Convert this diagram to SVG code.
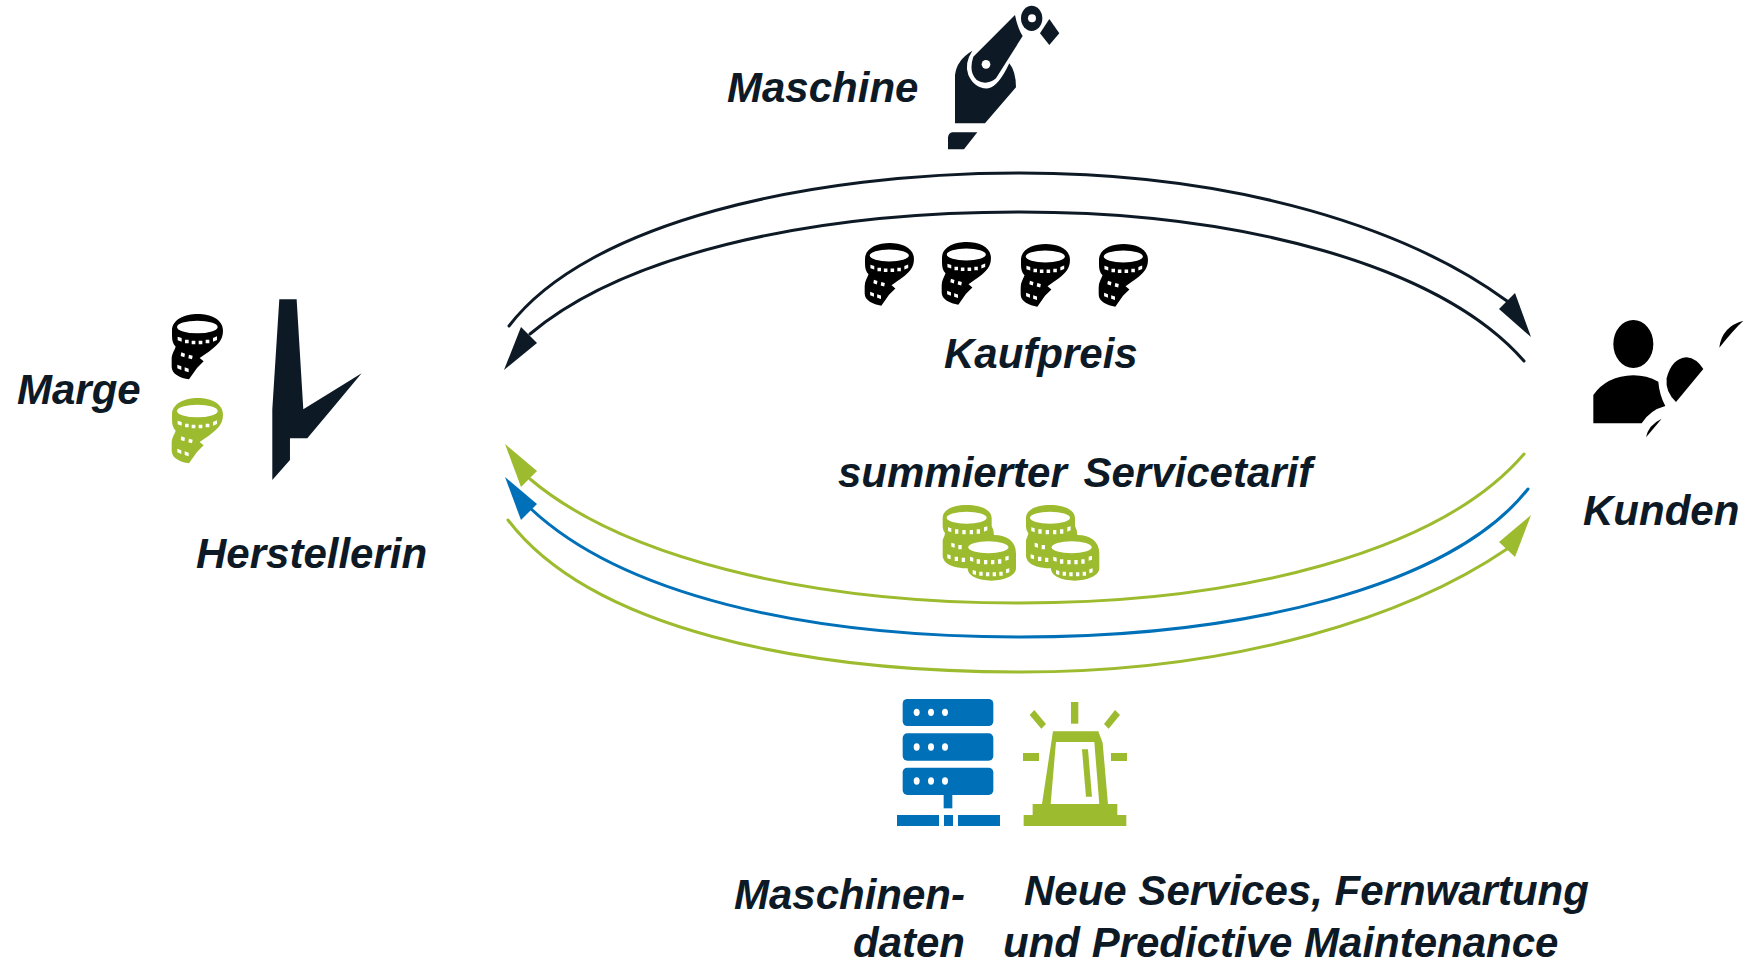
<svg xmlns="http://www.w3.org/2000/svg" width="1746" height="964" viewBox="0 0 1746 964">
<style>
text{font-family:"Liberation Sans",Arial,sans-serif;font-weight:bold;font-style:italic;font-size:42px;fill:#0d1a26}
.arc{fill:none;stroke-width:3;stroke-linecap:round}
.k{stroke:#0d1a26}.g{stroke:#9dbb2e}.b{stroke:#0070b8}
.fk{fill:#0d1a26}.fg{fill:#9dbb2e}.fb{fill:#0070b8}
.w{fill:#fff}
</style>
<defs>
<g id="coin" transform="scale(.3333) translate(-515 -100)">
<path d="M515 150C515 115 555 100 592 100C630 100 668 115 668 150C668 178 652 192 632 208C622 216 612 222 598 232L610 242L590 262L566 296C540 292 514 280 514 258V235C514 220 522 210 526 198C518 190 515 180 515 165Z"/>
<ellipse class="w" cx="591" cy="139" rx="61" ry="19"/>
<path class="w" d="M532 168l12 4v11l-12-4zM554 177h11v11h-11zM574 180h11v11h-11zM595 180h11v11h-11zM616 177h11v11h-11zM638 172l12-5v11l-12 5zM543 215l11 4-2 11-11-4zM566 222l11 3-2 11-11-3zM531 252l12 5v11l-12-5zM553 260l12 4v11l-12-4z"/>
</g>
</defs>

<g id="connectors">
<path class="arc k" d="M509 326C588 222 810 173 1020 173C1240 173 1410 230 1507 301"/>
<path class="arc k" d="M1524 361C1440 265 1240 212 1020 212C800 212 620 258 530 334"/>
<path class="arc g" d="M1524 454C1440 552 1240 603 1020 603C800 603 620 555 530 479"/>
<path class="arc b" d="M1528 489C1450 588 1240 637 1020 637C800 637 620 593 530 508"/>
<path class="arc g" d="M508 520C590 628 800 672 1020 672C1240 672 1410 615 1507 549"/>
<polygon class="fk" points="504,370 521,327 537,343"/>
<polygon class="fk" points="1531,337 1515,293 1499,309"/>
<polygon class="fg" points="505,444 537,471 521,487"/>
<polygon class="fb" points="505,477 537,504 521,520"/>
<polygon class="fg" points="1531,515 1499,542 1515,557"/>
</g>

<g id="maschine" class="fk" transform="translate(920 0) scale(.3333)">
<path d="M105 370V225Q110 180 157 152Q132 190 145 225Q165 268 205 265Q235 260 268 190Q288 215 288 262L195 370Z"/>
<path d="M285 45Q293 85 308 108L228 235Q200 258 170 240Q145 215 160 170Z"/>
<circle class="w" cx="198" cy="193" r="13"/>
<ellipse cx="335" cy="55" rx="32" ry="38"/>
<circle class="w" cx="336" cy="55" r="12"/>
<polygon points="388,57 418,100 388,135 360,100"/>
<path d="M97 397H172L132 448H84V412Q86 399 97 397Z"/>
</g>

<g id="herstellerin" class="fk" transform="translate(0 280) scale(.3333)">
<polygon points="838,58 890,58 910,388 1085,280 995,388 922,475 870,475 870,540 817,600 817,388"/>
</g>

<g id="marge-coins">
<use href="#coin" x="172" y="314" fill="#000"/>
<use href="#coin" x="172" y="398" fill="#9dbb2e"/>
</g>

<g id="kaufpreis-coins" fill="#000">
<use href="#coin" transform="translate(865 243) scale(.96)"/>
<use href="#coin" transform="translate(942 242) scale(.96)"/>
<use href="#coin" transform="translate(1021 244) scale(.96)"/>
<use href="#coin" transform="translate(1099 244) scale(.96)"/>
</g>

<g id="kunden" fill="#000" transform="translate(1560 300) scale(.3333)">
<ellipse cx="220" cy="132" rx="60" ry="72"/>
<path d="M100 370V285Q140 228 220 226Q260 226 295 245Q298 285 316 318Q270 330 245 370Z"/>
<path d="M348 306Q315 275 320 235Q335 175 380 172Q410 175 430 207Z"/>
<path d="M478 143Q485 80 550 62Q520 90 478 143Z"/>
<path d="M258 412Q265 375 305 356Q285 380 258 412Z"/>
</g>

<g id="service-coins" class="fg" transform="translate(920 490) scale(.3333)">
<g id="st1">
<path d="M68 85C68 58 100 45 140 45S215 58 215 85V108Q222 120 222 135C262 135 288 155 288 190V235C288 258 250 272 215 272C175 272 143 258 143 235C100 235 68 222 68 195V150Q75 135 75 130Q68 120 68 110Z"/>
<ellipse class="w" cx="140" cy="83" rx="60" ry="18"/>
<ellipse class="fg" cx="205" cy="172" rx="75" ry="32"/>
<ellipse class="w" cx="205" cy="172" rx="60" ry="18"/>
<path class="w" d="M84 112l10 3v12l-10-4zM105 118h10v13h-10zM127 120h10v13h-10zM149 120h10v13h-10zM170 118h10v13h-10zM192 112l10-3v12l-10 4zM94 158l10 3v12l-10-3zM115 165h10v13h-10zM82 193l10 3v12l-10-3zM104 200h10v13h-10zM125 203h10v13h-10zM150 200l10 3v12l-10-3zM170 208h10v13h-10zM192 210h10v13h-10zM213 210h10v13h-10zM234 208h10v13h-10zM256 200l10-3v12l-10 3zM158 240l10 3v12l-10-3zM178 245h10v12h-10zM198 247h10v12h-10zM218 247h10v12h-10zM238 245h10v12h-10zM258 238l10-3v12l-10 3z"/>
</g>
<use href="#st1" x="250"/>
</g>

<g id="maschinendaten" transform="translate(880 690) scale(.3333)">
<g class="fb">
<rect x="68" y="27" width="272" height="81" rx="14"/>
<rect x="68" y="130" width="272" height="82" rx="14"/>
<rect x="68" y="233" width="272" height="82" rx="14"/>
<rect x="191" y="315" width="26" height="40"/>
<rect x="51" y="375" width="126" height="33"/>
<rect x="192" y="375" width="27" height="33"/>
<rect x="234" y="375" width="126" height="33"/>
</g>
<g class="w">
<ellipse cx="110" cy="67" rx="9" ry="11"/><ellipse cx="153" cy="67" rx="9" ry="11"/><ellipse cx="195" cy="67" rx="9" ry="11"/>
<ellipse cx="110" cy="171" rx="9" ry="11"/><ellipse cx="153" cy="171" rx="9" ry="11"/><ellipse cx="195" cy="171" rx="9" ry="11"/>
<ellipse cx="110" cy="273" rx="9" ry="11"/><ellipse cx="153" cy="273" rx="9" ry="11"/><ellipse cx="195" cy="273" rx="9" ry="11"/>
</g>
</g>

<g id="services" class="fg" transform="translate(880 690) scale(.3333)">
<rect x="573" y="36" width="22" height="65"/>
<polygon points="449,75 463,60 498,102 484,116"/>
<polygon points="705,60 720,75 686,116 672,102"/>
<rect x="429" y="189" width="48" height="24"/>
<rect x="693" y="189" width="48" height="24"/>
<path fill-rule="evenodd" d="M519 124H655L668 158L684 342H712V375H739V408H431V375H458V342H486ZM528 156L512 342H658L643 156Z"/>
<polygon points="606,178 624,178 636,320 618,320"/>
</g>

<g id="labels">
<text x="727" y="102">Maschine</text>
<text x="17" y="404">Marge</text>
<text x="196" y="568">Herstellerin</text>
<text x="944" y="368">Kaufpreis</text>
<text x="838" y="487">summierter <tspan dx="5">Servicetarif</tspan></text>
<text x="1583" y="525">Kunden</text>
<text x="965" y="909" text-anchor="end">Maschinen-</text>
<text x="965" y="957" text-anchor="end">daten</text>
<text x="1024" y="905">Neue Services, Fernwartung</text>
<text x="1003" y="957">und Predictive Maintenance</text>
</g>
</svg>
